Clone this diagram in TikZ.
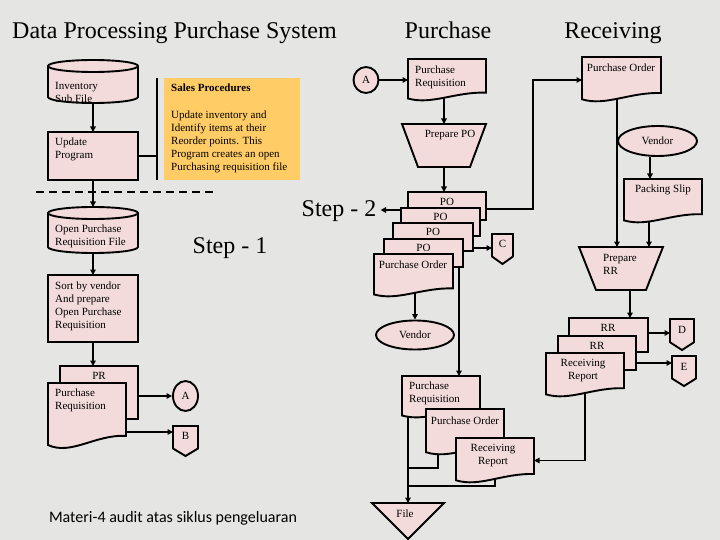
\documentclass[tikz,border=0pt]{standalone}
\usepackage{fontspec}
\setmainfont{Liberation Serif}
\newfontfamily\carl{Carlito}
\usetikzlibrary{arrows.meta,shapes.geometric,calc}
\definecolor{bgc}{RGB}{229,229,227}
\definecolor{boxc}{RGB}{242,219,218}
\definecolor{orng}{RGB}{255,204,102}
\tikzset{
 geo/.style={rectangle,inner sep=0,outer sep=0,draw=none},
 shp/.style={fill=boxc,draw=black,line width=1.9pt,line join=miter},
 ln/.style={draw=black,line width=1.9pt},
 arr/.style={ln,-{Triangle[length=5.5pt,width=5.5pt]}},
 txt/.style={inner sep=0,font=\fontsize{11}{13}\selectfont},
 big/.style={inner sep=0,font=\fontsize{24}{28}\selectfont},
 ell/.style={ellipse,fill=boxc,draw=black,line width=1.9pt,inner sep=0,font=\fontsize{11}{13}\selectfont},
 dashline/.style={draw=black,line width=1.9pt,dash pattern=on 8pt off 5pt}
}
\newcommand\mkgeo[5]{\node[geo,minimum width={#4-#2},minimum height={#5-#3}] (#1) at ({(#2+#4)/2},{(#3+#5)/2}) {};}
\newcommand\rectshape[1]{\filldraw[shp] (#1.north west) rectangle (#1.south east);}
\newcommand\docshape[1]{%
\filldraw[shp] let \p1=(#1.north west), \p2=(#1.south east) in
 (\x1,\y1) -- (\x2,\y1) -- (\x2,{\y2+0.2*(\y1-\y2)})
 .. controls ({\x1+0.6*(\x2-\x1)},{\y2+0.22*(\y1-\y2)}) and ({\x1+0.3*(\x2-\x1)},{\y2-0.1*(\y1-\y2)})
 .. (\x1,{\y2+0.06*(\y1-\y2)}) -- cycle;}
\newcommand\cylshape[1]{%
\filldraw[shp] let \p1=(#1.north west), \p2=(#1.south east) in
 ({\x1},{\y1-6pt}) -- ({\x1},{\y2+6pt}) arc[start angle=180,end angle=360,x radius={(\x2-\x1)/2},y radius=6pt]
 -- ({\x2},{\y1-6pt}) arc[start angle=0,end angle=180,x radius={(\x2-\x1)/2},y radius=6pt] -- cycle
 ({\x1},{\y1-6pt}) arc[start angle=180,end angle=360,x radius={(\x2-\x1)/2},y radius=6pt];}
\newcommand\offshape[1]{%
\filldraw[shp] let \p1=(#1.north west), \p2=(#1.south east) in
 (\x1,\y1) -- (\x2,\y1) -- (\x2,{\y2+0.25*(\y1-\y2)}) -- ({(\x1+\x2)/2},\y2) -- (\x1,{\y2+0.25*(\y1-\y2)}) -- cycle;}
\newcommand\trapshape[2]{\filldraw[shp] (#1.north west) -- (#1.north east) -- ([xshift=-#2]#1.south east) -- ([xshift=#2]#1.south west) -- cycle;}
\newcommand\trishape[1]{\filldraw[shp] (#1.north west) -- (#1.north east) -- (#1.south) -- cycle;}
\begin{document}
\begin{tikzpicture}[x=1pt,y=-1pt]
\fill[bgc] (0,0) rectangle (720,540);
\useasboundingbox (0,0) rectangle (720,540);
% titles
\node[big,anchor=base west] (title) at (12,39) {Data Processing Purchase System};
\node[big,anchor=base] (hpur) at (448,39) {Purchase};
\node[big,anchor=base] (hrec) at (613,39) {Receiving};
\node[big,anchor=base] (step1) at (230,254) {Step - 1};
\node[big,anchor=base] (step2) at (339,217) {Step - 2};
\node[inner sep=0,font=\carl\fontsize{16}{19}\selectfont] (foot) at (173,518) {Materi-4 audit atas siklus pengeluaran};
% sales box
\node[geo,fill=orng,minimum width=136,minimum height=102] (sales) at (232,129) {};
\coordinate (bt) at (157,78);
\coordinate (bb) at (157,180);
\coordinate (d1) at (36,192);
\coordinate (d2) at (217,192);
% geometry
\mkgeo{cy1}{48}{60}{138}{103}
\mkgeo{upd}{48}{132}{138}{180}
\mkgeo{cy2}{48}{207}{138}{253}
\mkgeo{srt}{48}{275}{138}{342}
\mkgeo{prb}{60}{366}{138}{419}
\mkgeo{prf}{48}{383}{126}{449}
\mkgeo{b}{173}{426}{198}{456}
\mkgeo{pq1}{408}{59}{486}{101}
\mkgeo{ppo}{402}{124}{486}{167}
\mkgeo{s1}{408}{192}{486}{220}
\mkgeo{s2}{401}{208}{480}{236}
\mkgeo{s3}{393}{223}{473}{251}
\mkgeo{s4}{384}{239}{463}{267}
\mkgeo{pof}{374}{254}{453}{297}
\mkgeo{c}{492}{234}{513}{264}
\mkgeo{pq2}{402}{376}{480}{418}
\mkgeo{po2}{426}{409}{504}{455}
\mkgeo{rr2}{456}{438}{534}{483}
\mkgeo{fil}{372}{503}{444}{539}
\mkgeo{po3}{582}{57}{661}{102}
\mkgeo{ps}{624}{179}{702}{223}
\mkgeo{prr}{579}{247}{663}{290}
\mkgeo{rs1}{569}{318}{648}{352}
\mkgeo{rs2}{558}{336}{636}{370}
\mkgeo{rrf}{546}{353}{624}{397}
\mkgeo{d}{670}{319}{694}{350}
\mkgeo{e}{672}{356}{696}{386}
\coordinate (bw) at ([yshift=9]b.west);
\coordinate (j1) at (533,80);
\coordinate (j2) at (408,468);
\coordinate (j3) at (408,486);
\coordinate (s2tip) at ([xshift=4]step2.east);
% ellipses
\node[ell,minimum width=25,minimum height=30] (a1) at (185.5,396) {A};
\node[ell,minimum width=25,minimum height=26] (a2) at (366,80) {A};
\node[ell,minimum width=78,minimum height=29] (v1) at (415,335) {Vendor};
\node[ell,minimum width=79,minimum height=30] (v2) at (657.5,141) {Vendor};
% connectors
\draw[ln] (bt) -- (bb);
\draw[ln] (upd.east) -- (upd.east -| bt);
\draw[dashline] (d1) -- (d2);
\draw[arr] (cy1.center) -- (cy1.center |- upd.north);
\draw[arr] (upd.south) -- (upd.south |- cy2.north);
\draw[arr] (cy2.center) -- (cy2.center |- srt.north);
\draw[arr] (srt.south) -- (srt.south |- prb.north);
\draw[arr] (prb.east |- a1.west) -- (a1.west);
\draw[arr] (prf.east |- bw) -- (bw);
\draw[arr] (a2.east) -- (a2.east -| pq1.west);
\draw[arr] ([xshift=-3]pq1.center) -- ([xshift=-3]pq1.center |- ppo.north);
\draw[arr] (ppo.south) -- (ppo.south |- s1.north);
\draw[arr] ([yshift=-4]s1.west) -- ([yshift=-4]s1.west -| s2tip);
\draw[arr] ([yshift=-3]s1.east) -| (j1) -- (j1 -| po3.west);
\draw[arr] ([yshift=5]s4.east) -- ([yshift=5]s4.east -| c.west);
\draw[arr] (pof.center -| v1.north) -- (v1.north);
\draw[arr] ([xshift=-4]s4.south east) -- ([xshift=-4]s4.south east |- pq2.north);
\draw[arr] (fil.north |- pq2.center) -- (fil.north);
\draw[ln] ([xshift=-27]po2.center) |- (j2);
\draw[ln] (rr2.center) |- (j3);
\draw[arr] ([xshift=-4.5]po3.center) -- ([xshift=-4.5]po3.center |- prr.north);
\draw[arr] ([xshift=-7.5]v2.south) -- ([xshift=-7.5]v2.south |- ps.north);
\draw[arr] ([xshift=-14]ps.center) -- ([xshift=-14]ps.center |- prr.north);
\draw[arr] ([xshift=9]prr.south) -- ([xshift=9]prr.south |- rs1.north);
\draw[arr] ([yshift=2]rs1.east) -- ([yshift=2]rs1.east -| d.west);
\draw[arr] ([yshift=-10]rs2.east) -- ([yshift=-10]rs2.east -| e.west);
\draw[arr] (rrf.center) |- (rr2.east);
% shapes
\cylshape{cy1}
\rectshape{upd}
\cylshape{cy2}
\rectshape{srt}
\rectshape{prb}
\docshape{prf}
\offshape{b}
\docshape{pq1}
\trapshape{ppo}{16}
\rectshape{s1}
\rectshape{s2}
\rectshape{s3}
\rectshape{s4}
\docshape{pof}
\offshape{c}
\docshape{pq2}
\docshape{po2}
\docshape{rr2}
\trishape{fil}
\docshape{po3}
\docshape{ps}
\trapshape{prr}{17}
\rectshape{rs1}
\rectshape{rs2}
\docshape{rrf}
\offshape{d}
\offshape{e}
% texts
\node[txt,align=left,anchor=west] (tcy1) at (55,92.5) {Inventory\\Sub File};
\node[txt,align=left,anchor=west] (tupd) at (55,149) {Update\\Program};
\node[txt,anchor=west] (tsh) at (171,88) {\bfseries Sales Procedures};
\node[txt,align=left,anchor=west] (tsb) at (171,141.5) {Update inventory and\\Identify items at their\\Reorder points. This\\Program creates an open\\Purchasing requisition file};
\node[txt,align=left,anchor=west] (tcy2) at (55,236.5) {Open Purchase\\Requisition File};
\node[txt,align=left,anchor=west] (tsrt) at (55,306) {Sort by vendor\\And prepare\\Open Purchase\\Requisition};
\node[txt] (tprb) at (99,376) {PR};
\node[txt,align=left,anchor=west] (tprf) at (55,400.5) {Purchase\\Requisition};
\node[txt] (tb) at (185.5,436) {B};
\node[txt,align=left,anchor=west] (tpq1) at (415,77) {Purchase\\Requisition};
\node[txt] (tppo) at (450,135) {Prepare PO};
\node[txt] (ts1) at (447,202) {PO};
\node[txt] (ts2) at (440.5,217) {PO};
\node[txt] (ts3) at (433,232) {PO};
\node[txt] (ts4) at (423.5,248) {PO};
\node[txt] (tpof) at (413,265) {Purchase Order};
\node[txt] (tc) at (502.5,244) {C};
\node[txt,align=left,anchor=west] (tpq2) at (409,393) {Purchase\\Requisition};
\node[txt] (tpo2) at (465,421) {Purchase Order};
\node[txt,align=center] (trr2) at (493,455.5) {Receiving\\Report};
\node[txt] (tfil) at (405,514) {File};
\node[txt] (tpo3) at (621,68) {Purchase Order};
\node[txt] (tps) at (663,190) {Packing Slip};
\node[txt,align=left,anchor=west] (tprr) at (603,264.5) {Prepare\\RR};
\node[txt] (trs1) at (608,328) {RR};
\node[txt] (trs2) at (597,346) {RR};
\node[txt,align=center] (trrf) at (583,370.5) {Receiving\\Report};
\node[txt] (td) at (682,330) {D};
\node[txt] (te) at (684,367) {E};
\end{tikzpicture}
\end{document}
